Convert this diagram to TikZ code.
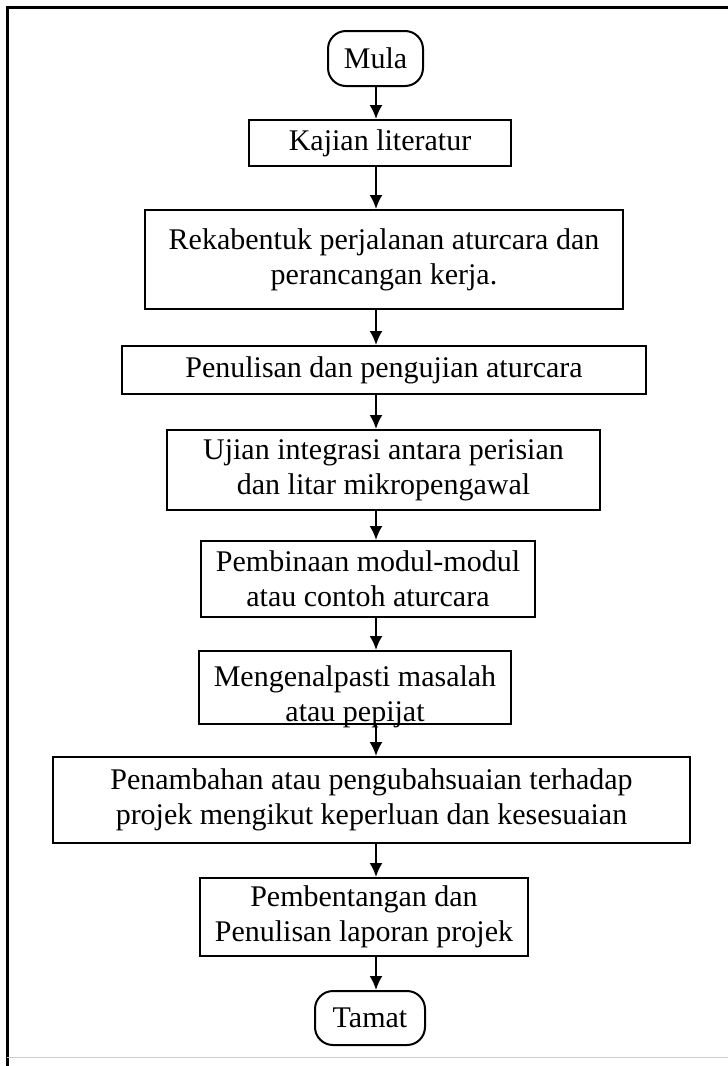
\documentclass[tikz,border=0pt]{standalone}
\usepackage{fontspec}
\setmainfont{Liberation Serif}
\usetikzlibrary{arrows.meta}

\tikzset{
  kotak/.style={draw, line width=2pt, align=center, inner sep=0pt, font=\fontsize{30}{35}\selectfont},
  terminal/.style={kotak, rounded corners=18pt},
  arr/.style={line width=2pt, -{Latex[length=14pt,width=13pt]}}
}

\begin{document}
\begin{tikzpicture}[x=1pt, y=-1pt]
  \useasboundingbox (0,0) rectangle (728,1066);

  %frame around the chart
  \draw[line width=3pt] (728,7) -- (7,7) -- (7,1066); %top and left
  \draw[line width=1pt, black!20] (7,1057) -- (728,1057); %faint bottom

  %start and end
  \node[terminal, minimum width=95, minimum height=55] (mula) at (375.5,58.5) {Mula};
  \node[terminal, minimum width=110, minimum height=54] (tamat) at (370,1018) {Tamat};

  %process boxes
  \node[kotak, minimum width=262, minimum height=46] (kajian) at (380,143) {Kajian literatur};
  \node[kotak, minimum width=478, minimum height=99] (rekabentuk) at (384,259.5) {Rekabentuk perjalanan aturcara dan\\ perancangan kerja.};
  \node[kotak, minimum width=524, minimum height=48] (penulisan) at (384,370) {Penulisan dan pengujian aturcara};
  \node[kotak, minimum width=433, minimum height=80] (ujian) at (383.5,470) {Ujian integrasi antara perisian\\ dan litar mikropengawal};
  \node[kotak, minimum width=334, minimum height=76] (pembinaan) at (368,579) {Pembinaan modul-modul\\ atau contoh aturcara};
  \node[kotak, minimum width=312, minimum height=73] (masalah) at (355,687.5) {\raisebox{-9pt}[\height][\depth]{\begin{tabular}{@{}c@{}}Mengenalpasti masalah\\ atau pepijat\end{tabular}}};
  \node[kotak, minimum width=637, minimum height=86] (penambahan) at (371.5,800) {Penambahan atau pengubahsuaian terhadap\\ projek mengikut keperluan dan kesesuaian};
  \node[kotak, minimum width=328, minimum height=78] (laporan) at (364,917) {Pembentangan dan\\ Penulisan laporan projek};

  %arrows down the chart
  \coordinate (spine) at (376,0);
  \foreach \a/\b in {mula/kajian, kajian/rekabentuk, rekabentuk/penulisan, penulisan/ujian,
                     ujian/pembinaan, pembinaan/masalah, masalah/penambahan,
                     penambahan/laporan, laporan/tamat}
    \draw[arr] (\a.south -| spine) -- (\b.north -| spine);
\end{tikzpicture}
\end{document}
